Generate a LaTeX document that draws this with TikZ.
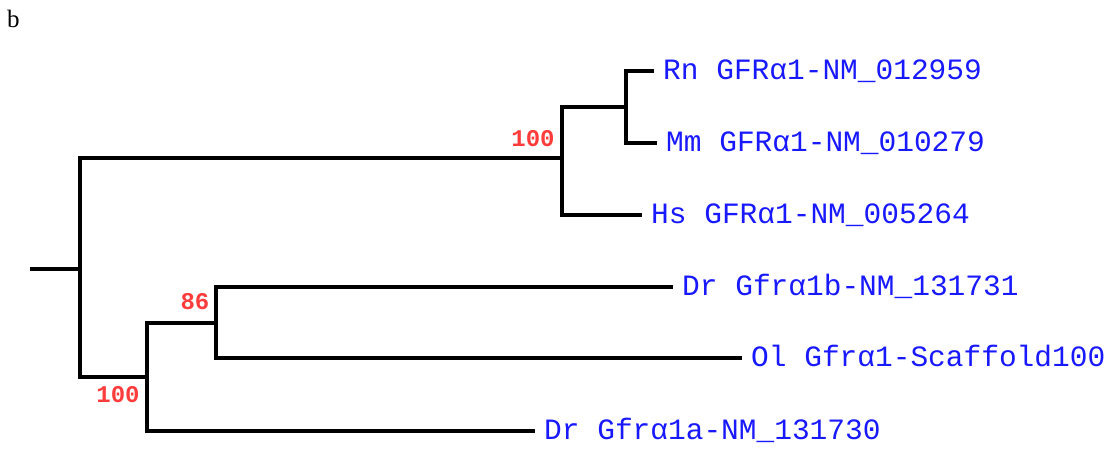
\documentclass[tikz,border=0pt]{standalone}
\usepackage{fontspec}
\newfontfamily\treefont{Liberation Mono}
\newfontfamily\panelfont{Liberation Serif}
\definecolor{leafblue}{RGB}{25,25,255}
\definecolor{bootred}{RGB}{255,60,60}
\begin{document}
\begin{tikzpicture}[x=1pt,y=-1pt,
  branch/.style={line width=3.6pt, line join=miter, line cap=butt, black},
  leaf/.style={anchor=west, inner sep=0pt, text=leafblue, text height=17pt, text depth=0pt,
    font=\treefont\fontsize{29.5}{30}\selectfont},
  boot/.style={inner sep=0pt, text=bootred, font=\treefont\bfseries\fontsize{24}{24}\selectfont}]
\useasboundingbox[fill=white] (0,0) rectangle (1117,461);
\node[anchor=base west, inner sep=0pt, font=\panelfont\fontsize{25}{25}\selectfont] (panel) at (7,27) {b};
% internal nodes
\coordinate (r0) at (30,269);
\coordinate (r) at (80,269);
\coordinate (A) at (562,158);
\coordinate (C) at (626,107);
\coordinate (B) at (147,377);
\coordinate (D) at (216,323);
% leaves
\node[leaf] (rn) at (663,71) {Rn GFRα1-NM\_012959};
\node[leaf] (mm) at (666,143) {Mm GFRα1-NM\_010279};
\node[leaf] (hs) at (651,215) {Hs GFRα1-NM\_005264};
\node[leaf] (drb) at (682,287) {Dr Gfrα1b-NM\_131731};
\node[leaf] (ol) at (751,358) {Ol Gfrα1-Scaffold100};
\node[leaf] (dra) at (544,431) {Dr Gfrα1a-NM\_131730};
% branches
\draw[branch] (r0) -- (r);
\draw[branch] (A) -| (r) |- (B);
\draw[branch] (C) -| (A) |- ([xshift=-9pt]hs.west);
\draw[branch] ([xshift=-9pt]rn.west) -| (C) |- ([xshift=-9pt]mm.west);
\draw[branch] (D) -| (B) |- ([xshift=-9pt]dra.west);
\draw[branch] ([xshift=-9pt]drb.west) -| (D) |- ([xshift=-9pt]ol.west);
% bootstrap values
\node[boot] (b1) at (533,139) {100};
\node[boot] (b2) at (195,302) {86};
\node[boot] (b3) at (118,395) {100};
\end{tikzpicture}
\end{document}
